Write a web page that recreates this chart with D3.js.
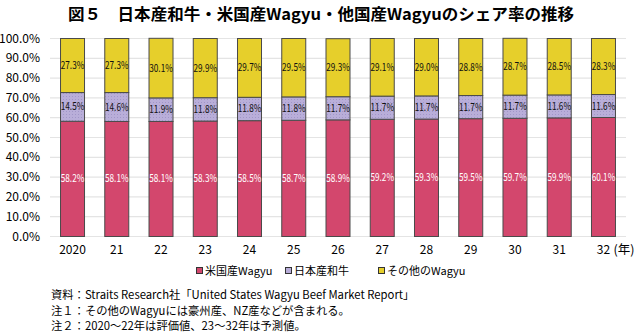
<!DOCTYPE html>
<html>
<head>
<meta charset="utf-8">
<script src="https://cdnjs.cloudflare.com/ajax/libs/d3/7.8.5/d3.min.js"></script>
<style>
body { margin: 0; background: #fff; }
text { font-family: "Noto Sans CJK JP", "Noto Sans", sans-serif; }
</style>
</head>
<body>
<div class="visualization"></div>
<script>
//data
const years = ["2020", "21", "22", "23", "24", "25", "26", "27", "28", "29", "30", "31", "32"];
const usWagyu = [58.2, 58.1, 58.1, 58.3, 58.5, 58.7, 58.9, 59.2, 59.3, 59.5, 59.7, 59.9, 60.1];
const japanWagyu = [14.5, 14.6, 11.9, 11.8, 11.8, 11.8, 11.7, 11.7, 11.7, 11.7, 11.7, 11.6, 11.6];
const otherWagyu = [27.3, 27.3, 30.1, 29.9, 29.7, 29.5, 29.3, 29.1, 29.0, 28.8, 28.7, 28.5, 28.3];
const seriesNames = ["米国産Wagyu", "日本産和牛", "その他のWagyu"];
const yTicks = [0, 10, 20, 30, 40, 50, 60, 70, 80, 90, 100];
const notes = [
	"資料：Straits Research社「United States Wagyu Beef Market Report」",
	"注１：その他のWagyuには豪州産、NZ産などが含まれる。",
	"注２：2020～22年は評価値、23～32年は予測値。"
];

const width = 640;
const height = 333;
const colors = ["#d3476d", "url(#dots)", "#e6cf2b"];
const legendColors = ["#d3476d", "#b7acd8", "#e6cf2b"];
const labelColors = ["#fff", "#111", "#111"];

const svg = d3.select(".visualization")
		.append("svg")
		.attr("width", width)
		.attr("height", height);

//dotted fill for the purple segments
const pat = svg.append("defs").append("pattern")
		.attr("id", "dots")
		.attr("width", 3)
		.attr("height", 3)
		.attr("patternUnits", "userSpaceOnUse");
pat.append("rect").attr("width", 3).attr("height", 3).attr("fill", "#b9aed9");
pat.append("rect").attr("width", 1).attr("height", 1).attr("fill", "#a196c8");

svg.append("text")
		.attr("x", 321)
		.attr("y", 20)
		.attr("text-anchor", "middle")
		.attr("textLength", 506)
		.attr("lengthAdjust", "spacingAndGlyphs")
		.style("font-size", "16px")
		.style("font-weight", "bold")
		.text("図５　日本産和牛・米国産Wagyu・他国産Wagyuのシェア率の推移");

const x = d3.scaleBand()
		.domain(years)
		.range([50.4, 625.6])
		.paddingInner(0.435)
		.paddingOuter(0.2175);

const y = d3.scaleLinear()
		.domain([0, 100])
		.range([236, 38]);

//gridlines
svg.append("g")
		.selectAll("line")
		.data(yTicks)
		.enter()
		.append("line")
		.attr("x1", 50)
		.attr("x2", 626)
		.attr("y1", d => y(d) + 0.5)
		.attr("y2", d => y(d) + 0.5)
		.attr("stroke", "#e4e4e4")
		.attr("stroke-width", 1.2);

svg.append("g")
		.selectAll("text")
		.data(yTicks)
		.enter()
		.append("text")
		.attr("x", 40)
		.attr("y", d => y(d) + 4.5)
		.attr("text-anchor", "end")
		.style("font-size", "12px")
		.text(d => d.toFixed(1) + "%");

const table = years.map((yr, i) => ({year: yr, values: [usWagyu[i], japanWagyu[i], otherWagyu[i]]}));
const stack = d3.stack()
		.keys([0, 1, 2])
		.value((d, k) => d.values[k]);
const layers = stack(table);

const layer = svg.append("g")
		.selectAll("g")
		.data(layers)
		.enter()
		.append("g");

layer.selectAll("rect")
		.data(d => d.map(p => ({p: p, key: d.key})))
		.enter()
		.append("rect")
		.attr("x", d => x(d.p.data.year) + 0.5)
		.attr("y", d => y(d.p[1]) + 0.5)
		.attr("width", x.bandwidth() - 1)
		.attr("height", d => y(d.p[0]) - y(d.p[1]))
		.attr("fill", d => colors[d.key])
		.attr("stroke", "#4a4a4a")
		.attr("stroke-width", 1);

layer.selectAll("text")
		.data(d => d.map(p => ({p: p, key: d.key})))
		.enter()
		.append("text")
		.attr("x", d => x(d.p.data.year) + x.bandwidth() / 2)
		.attr("y", d => (y(d.p[0]) + y(d.p[1])) / 2 + 4)
		.attr("text-anchor", "middle")
		.attr("textLength", 23.5)
		.attr("lengthAdjust", "spacingAndGlyphs")
		.style("font-size", "11px")
		.style("fill", d => labelColors[d.key])
		.text(d => (d.p[1] - d.p[0]).toFixed(1) + "%");

//x labels
svg.append("g")
		.selectAll("text")
		.data(years)
		.enter()
		.append("text")
		.attr("x", d => x(d) + x.bandwidth() / 2)
		.attr("y", 254)
		.attr("text-anchor", "middle")
		.style("font-size", "12px")
		.text(d => d);

svg.append("text")
		.attr("x", x("32") + x.bandwidth() / 2 + 10)
		.attr("y", 254)
		.style("font-size", "12.5px")
		.text("(年)");

//legend
const legendX = [196, 285, 378];
const legendItem = svg.append("g")
		.selectAll("g")
		.data(seriesNames)
		.enter()
		.append("g")
		.attr("transform", (d, i) => `translate(${legendX[i]},274)`);
legendItem.append("rect")
		.attr("x", 0.5)
		.attr("y", -6.5)
		.attr("width", 6)
		.attr("height", 6)
		.attr("fill", (d, i) => legendColors[i])
		.attr("stroke", "#333");
legendItem.append("text")
		.attr("x", 9)
		.attr("y", 0.5)
		.style("font-size", "11px")
		.text(d => d);

svg.append("g")
		.selectAll("text")
		.data(notes)
		.enter()
		.append("text")
		.attr("x", 51)
		.attr("y", (d, i) => 299 + i * 15.5)
		.style("font-size", "11.3px")
		.text(d => d);
</script>
</body>
</html>
